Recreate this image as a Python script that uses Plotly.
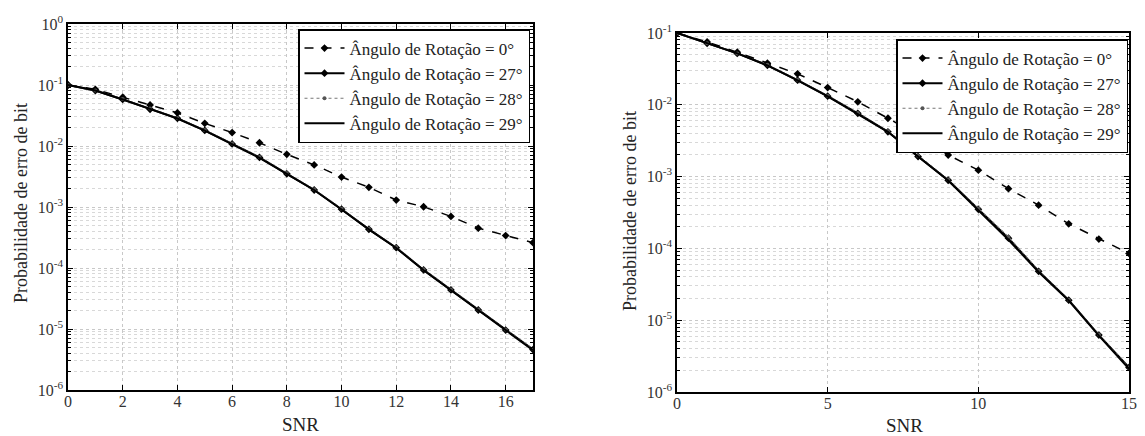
import plotly.graph_objects as go

# ---------------- data ----------------
snr_left = list(range(0, 18))
ber_left_0 = [0.1, 0.085, 0.063, 0.047, 0.035, 0.0235, 0.0166, 0.0113, 0.0073, 0.0049,
              0.0031, 0.0021, 0.0013, 0.00101, 0.0007, 0.00045, 0.00034, 0.00026]
ber_left_27 = [0.1, 0.081, 0.058, 0.040, 0.0284, 0.018, 0.0108, 0.0065, 0.0035, 0.0019,
               0.00092, 0.00043, 0.000215, 0.000093, 0.0000437, 0.0000205, 0.0000096, 0.0000046]
ber_left_28 = [0.1, 0.081, 0.059, 0.041, 0.0288, 0.0183, 0.0110, 0.0066, 0.0036, 0.00195,
               0.00094, 0.00044, 0.00022, 0.000095, 0.0000445, 0.0000208, 0.0000098, 0.0000047]
ber_left_29 = [0.1, 0.081, 0.058, 0.040, 0.0282, 0.0179, 0.0107, 0.0064, 0.0035, 0.0019,
               0.00091, 0.00043, 0.000213, 0.000092, 0.0000432, 0.0000202, 0.0000095, 0.0000045]

snr_right = list(range(0, 16))
ber_right_0 = [0.1, 0.075, 0.054, 0.038, 0.027, 0.0174, 0.011, 0.0065, 0.0038, 0.0020,
               0.00123, 0.00068, 0.00040, 0.00022, 0.000135, 0.000085]
ber_right_27 = [0.1, 0.072, 0.052, 0.0355, 0.022, 0.0132, 0.0076, 0.0042, 0.0019, 0.00089,
                0.00035, 0.000139, 0.000048, 0.000019, 0.0000062, 0.0000022]
ber_right_28 = [0.1, 0.072, 0.052, 0.0360, 0.0223, 0.0134, 0.0077, 0.0043, 0.00195, 0.00091,
                0.00036, 0.000145, 0.000049, 0.0000193, 0.0000063, 0.0000022]
ber_right_29 = [0.1, 0.072, 0.052, 0.0353, 0.0219, 0.0131, 0.0075, 0.0042, 0.0019, 0.00088,
                0.00034, 0.000132, 0.000047, 0.0000188, 0.0000061, 0.0000021]

series_names = ["Ângulo de Rotação = 0°", "Ângulo de Rotação = 27°",
                "Ângulo de Rotação = 28°", "Ângulo de Rotação = 29°"]

y_title = "Probabilidade de erro de bit"
x_title = "SNR"

left_xticks = [0, 2, 4, 6, 8, 10, 12, 14, 16]
right_xticks = [0, 5, 10, 15]
left_yexp = [0, -1, -2, -3, -4, -5, -6]
right_yexp = [-1, -2, -3, -4, -5, -6]

# ---------------- figure ----------------
FONT = "Liberation Serif"
OFF = 8  # page body margin
W, H = 1145 - 2 * OFF, 436 - OFF

fig = go.Figure()

styles = [
    dict(line=dict(color="black", width=1.5, dash="dash"),
         marker=dict(symbol="diamond", size=6, color="black"), mode="lines+markers"),
    dict(line=dict(color="black", width=2),
         marker=dict(symbol="diamond", size=6, color="black"), mode="lines+markers"),
    dict(line=dict(color="#777777", width=1.2, dash="dot"),
         marker=dict(symbol="circle", size=4, color="#555555"), mode="lines+markers"),
    dict(line=dict(color="black", width=2), mode="lines"),
]

left_data = [ber_left_0, ber_left_27, ber_left_28, ber_left_29]
right_data = [ber_right_0, ber_right_27, ber_right_28, ber_right_29]

for name, ys, st in zip(series_names, left_data, styles):
    fig.add_trace(go.Scatter(x=snr_left, y=ys, name=name, xaxis="x", yaxis="y",
                             legend="legend", **st))
for name, ys, st in zip(series_names, right_data, styles):
    fig.add_trace(go.Scatter(x=snr_right, y=ys, name=name, xaxis="x2", yaxis="y2",
                             legend="legend2", **st))


def px_x(p):
    return (p - OFF) / W


def px_y(p):
    return 1 - (p - OFF) / H


grid_col = "#c8c8c8"
tickfont = dict(family=FONT, size=16, color="#333333")


def minor_vals(exps):
    vals = []
    lo, hi = min(exps), max(exps)
    for e in range(lo, hi):
        for m in range(2, 10):
            vals.append(m * 10 ** e)
    return vals


def xaxis(dom, rng, ticks, anchor):
    return dict(domain=dom, range=rng, tickvals=ticks, ticktext=[str(t) for t in ticks],
                showgrid=True, gridcolor=grid_col, griddash="dot", gridwidth=1,
                ticks="inside", ticklen=5, tickcolor="black", showline=True,
                linecolor="black", linewidth=1.5, mirror="allticks", zeroline=False,
                tickfont=tickfont, anchor=anchor, automargin=False,
                ticklabelstandoff=-4)


def yaxis(dom, exps, anchor):
    return dict(domain=dom, type="log", range=[min(exps), max(exps)],
                tickvals=[10.0 ** e for e in exps],
                ticktext=["10<sup>%d</sup>" % e for e in exps],
                showgrid=True, gridcolor=grid_col, griddash="dot", gridwidth=1,
                ticks="inside", ticklen=5, tickcolor="black", showline=True,
                linecolor="black", linewidth=1.5, mirror="allticks", zeroline=False,
                tickfont=tickfont, anchor=anchor, automargin=False,
                minor=dict(tickvals=minor_vals(exps), ticks="inside", ticklen=3,
                           tickcolor="black", showgrid=True, gridcolor="#d8d8d8",
                           griddash="dot"))


legend_common = dict(bgcolor="white", bordercolor="black", borderwidth=1.5,
                     font=dict(family=FONT, size=17, color="#222222"),
                     xanchor="right", yanchor="top", tracegroupgap=0,
                     itemwidth=40)

fig.update_layout(
    width=W, height=H,
    margin=dict(l=0, r=0, t=0, b=0),
    paper_bgcolor="white", plot_bgcolor="white",
    font=dict(family=FONT, color="#222222"),
    xaxis=xaxis([px_x(68), px_x(533)], [0, 17], left_xticks, "y"),
    yaxis=yaxis([px_y(390), px_y(24)], left_yexp, "x"),
    xaxis2=xaxis([px_x(677), px_x(1129)], [0, 15], right_xticks, "y2"),
    yaxis2=yaxis([px_y(392), px_y(33)], right_yexp, "x2"),
    legend=dict(x=px_x(530), y=px_y(29), **legend_common),
    legend2=dict(x=px_x(1128), y=px_y(39), **legend_common),
)

annots = [
    dict(text=x_title, x=px_x(300), y=px_y(424), size=19),
    dict(text=x_title, x=px_x(904), y=px_y(425), size=19),
    dict(text=y_title, x=px_x(21), y=px_y(203), textangle=-90, size=18),
    dict(text=y_title, x=px_x(630), y=px_y(211), textangle=-90, size=18),
]
for a in annots:
    sz = a.pop("size")
    fig.add_annotation(xref="paper", yref="paper", showarrow=False,
                       xanchor="center", yanchor="middle",
                       font=dict(family=FONT, size=sz, color="#222222"), **a)

fig.write_html("out.html")
